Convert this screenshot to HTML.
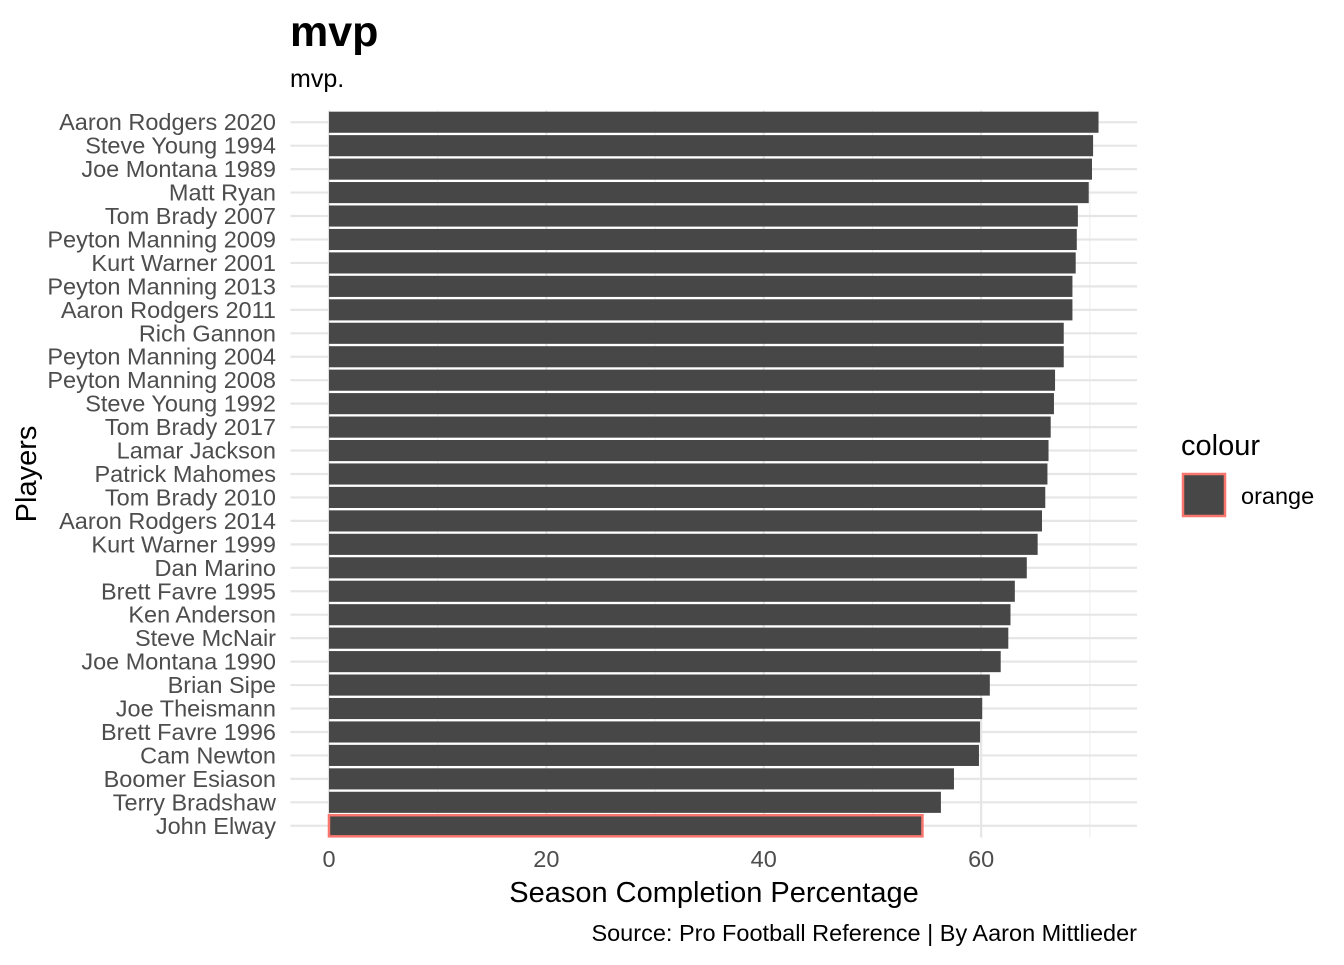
<!DOCTYPE html>
<html><head><meta charset="utf-8"><style>
body{margin:0;background:#fff;}
svg text{font-family:"Liberation Sans",Arial,sans-serif;}
</style></head><body>
<svg id="chart" width="1344" height="960" xmlns="http://www.w3.org/2000/svg">
<text x="290" y="46" font-size="43" font-weight="bold" fill="#000">mvp</text>
<text x="290" y="87" font-size="25" fill="#000">mvp.</text>
<g id="grid"></g>
<g id="bars"></g>
<g id="ylabels"></g>
<g id="xlabels"></g>
<text x="714" y="902" font-size="29" text-anchor="middle" fill="#000">Season Completion Percentage</text>
<text transform="translate(36,474) rotate(-90)" font-size="29" text-anchor="middle" fill="#000">Players</text>
<text x="1137" y="941" font-size="23.5" text-anchor="end" fill="#000">Source: Pro Football Reference | By Aaron Mittlieder</text>
<g>
<text x="1181" y="455" font-size="29" fill="#000">colour</text>
<rect x="1183" y="474" width="42" height="42" fill="#474747" stroke="#F8766D" stroke-width="2.5"/>
<text x="1241" y="504" font-size="23.5" fill="#000">orange</text>
</g>
</svg>
<script>
const players=["Aaron Rodgers 2020","Steve Young 1994","Joe Montana 1989","Matt Ryan","Tom Brady 2007","Peyton Manning 2009","Kurt Warner 2001","Peyton Manning 2013","Aaron Rodgers 2011","Rich Gannon","Peyton Manning 2004","Peyton Manning 2008","Steve Young 1992","Tom Brady 2017","Lamar Jackson","Patrick Mahomes","Tom Brady 2010","Aaron Rodgers 2014","Kurt Warner 1999","Dan Marino","Brett Favre 1995","Ken Anderson","Steve McNair","Joe Montana 1990","Brian Sipe","Joe Theismann","Brett Favre 1996","Cam Newton","Boomer Esiason","Terry Bradshaw","John Elway"];
const values=[70.8,70.3,70.2,69.9,68.9,68.8,68.7,68.4,68.4,67.6,67.6,66.8,66.7,66.4,66.2,66.1,65.9,65.6,65.2,64.2,63.1,62.7,62.5,61.8,60.8,60.1,59.9,59.8,57.5,56.3,54.6];
const xTicks=[0,20,40,60];
const xMinor=[10,30,50,70];
const highlight="John Elway";
const NS="http://www.w3.org/2000/svg";
const px0=290.5,px1=1137,pTop=110.5,pBot=837.5;
const maxV=Math.max(...values);
const dMin=-0.05*maxV,dMax=1.05*maxV;
const xs=v=>px0+(v-dMin)/(dMax-dMin)*(px1-px0);
const step=(pBot-pTop)/players.length;
const ys=i=>pTop+step*(i+0.5);
function mk(tag,attrs,parent){const e=document.createElementNS(NS,tag);for(const k in attrs)e.setAttribute(k,attrs[k]);parent.appendChild(e);return e;}
const grid=document.getElementById('grid');
xMinor.forEach(t=>{const l=mk('line',{x1:xs(t),x2:xs(t),y1:pTop,y2:pBot,stroke:'#f0f0f0','stroke-width':1.2},grid);

});
xTicks.forEach(t=>{const l=mk('line',{x1:xs(t),x2:xs(t),y1:pTop,y2:pBot,stroke:'#e6e6e6','stroke-width':2.2},grid);

});
players.forEach((p,i)=>{const l=mk('line',{x1:px0,x2:px1,y1:ys(i),y2:ys(i),stroke:'#e6e6e6','stroke-width':2.2},grid);

});
const bars=document.getElementById('bars'),yl=document.getElementById('ylabels'),xl=document.getElementById('xlabels');
const bh=step*0.9;
players.forEach((p,i)=>{
const hl=p===highlight;
const r=mk('rect',{x:xs(0),y:ys(i)-bh/2,width:xs(values[i])-xs(0),height:bh,fill:'#474747'},bars);
if(hl){r.setAttribute('stroke','#F8766D');r.setAttribute('stroke-width','2.5');}


const t=mk('text',{x:276,y:ys(i)+8,'font-size':23.5,'text-anchor':'end',fill:'#4d4d4d'},yl);
t.textContent=p;


});
xTicks.forEach(v=>{const t=mk('text',{x:xs(v),y:867,'font-size':23.5,'text-anchor':'middle',fill:'#4d4d4d'},xl);
t.textContent=v;

});
</script>
</body></html>
